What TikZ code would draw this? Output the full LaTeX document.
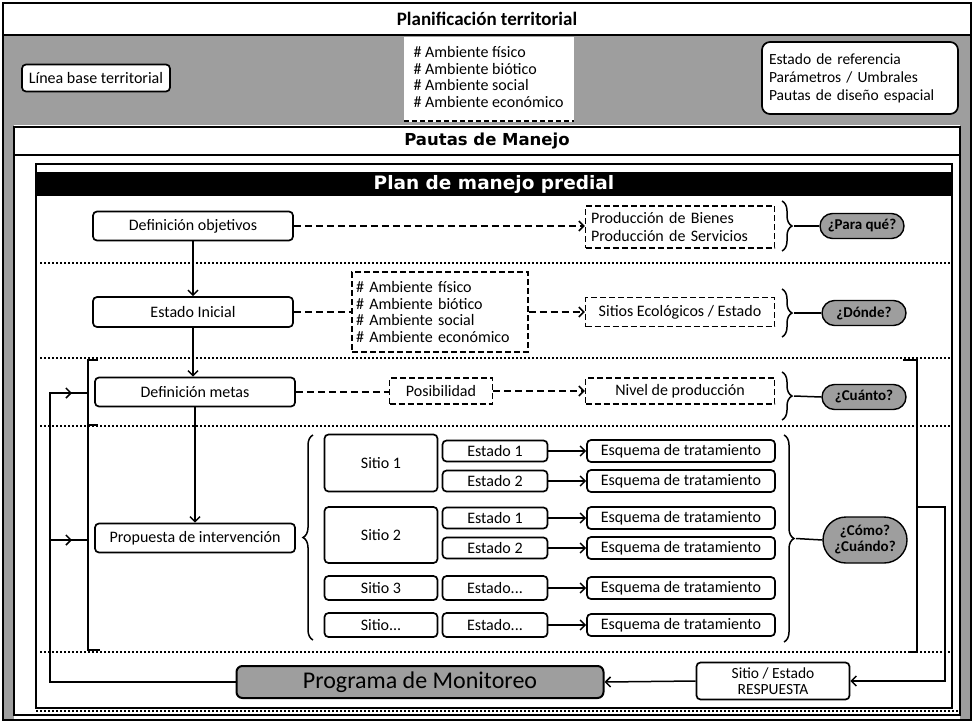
\documentclass[tikz,border=0pt]{standalone}
\usepackage{fontspec}
\setmainfont{Carlito}
\newfontfamily\titlefont{DejaVu Sans}
\usetikzlibrary{arrows.meta,decorations.pathreplacing,shapes.misc}
\definecolor{noisegray}{gray}{0.62}
\begin{document}
\begin{tikzpicture}[x=1pt,y=-1pt,
  every node/.style={font=\fontsize{16}{18}\selectfont},
  box/.style={draw, line width=1.7pt, rounded corners=4pt, fill=white, align=center, inner sep=1pt},
  dbox/.style={draw, line width=1.3pt, dash pattern=on 6pt off 3pt, fill=white, align=left, inner sep=1pt},
  oval/.style={draw, line width=1.4pt, rounded rectangle, fill=noisegray, minimum width=86, minimum height=25, font=\fontsize{15}{15}\selectfont\bfseries, align=center, inner sep=1pt},
  barb/.style={-{Straight Barb[length=5pt,width=10pt,line width=1.5pt]}},
  conn/.style={line width=1.5pt},
  dconn/.style={line width=1.4pt, dash pattern=on 7pt off 4pt},
  sep/.style={line width=1.1pt, dash pattern=on 2pt off 2pt},
  brc/.style={line width=1.5pt, decorate, decoration={brace, amplitude=10pt}}
]
\useasboundingbox (0,0) rectangle (974,723);
\fill[white] (0,0) rectangle (974,723);
% noise regions
\fill[noisegray] (3,35) rectangle (971,125);
\fill[noisegray] (3,125) rectangle (14,720);
\fill[noisegray] (960,125) rectangle (971,720);
% frames
\draw[line width=1.2pt] (3,3) rectangle (971,720);
\draw[line width=1.2pt] (3,35) -- (971,35);
\draw[line width=1.4pt, fill=white] (14,127) rectangle (960,715);
\draw[line width=1.2pt] (14,155) -- (960,155);
\draw[line width=1.4pt] (36,164) rectangle (952,708);
\fill[black] (36,172) rectangle (952,196);
\draw[sep] (36,711) -- (958,711);

\node[font=\fontsize{19}{21}\selectfont\bfseries] (t1) at (487,19) {Planificación territorial};
\node[font=\titlefont\fontsize{16.5}{18}\selectfont\bfseries] (t2) at (487,141) {Pautas de Manejo};
\node[font=\titlefont\fontsize{18.5}{20}\selectfont\bfseries, text=white] (t3) at (494,184) {Plan de manejo predial};

% top band contents
\fill[white] (404,37) rectangle (574,122);
\draw[line width=1.2pt, dash pattern=on 5pt off 3pt] (404,121) -- (574,121);
\node[align=left, anchor=west, font=\fontsize{16}{16.8}\selectfont] (ambtop) at (410,77) {\# Ambiente físico\\\# Ambiente biótico\\\# Ambiente social\\\# Ambiente económico};
\node[box, minimum width=148, minimum height=27] (lbt) at (96,78) {Línea base territorial};
\node[box, rounded corners=8pt, minimum width=196, minimum height=72, align=left, text width=182, font=\fontsize{15.5}{18}\selectfont] (ref) at (860,78) {Estado de referencia\\Parámetros / Umbrales\\Pautas de diseño espacial};

% separators
\foreach \yy in {263,358,426,652} \draw[sep] (40,\yy) -- (950,\yy);

% main flow
\node[box, minimum width=200, minimum height=29] (obj) at (193,226) {Definición objetivos};
\node[box, minimum width=200, minimum height=30] (ini) at (193,312) {Estado Inicial};
\node[box, minimum width=200, minimum height=29] (met) at (195,392) {Definición metas};
\node[box, minimum width=200, minimum height=29] (pro) at (195,538) {Propuesta de intervención};

\draw[conn, barb] (obj.south) -- (ini.north);
\draw[conn, barb] (ini.south) -- (ini.south |- met.north);
\draw[conn, barb] (met.south) -- (met.south |- pro.north);

% dashed boxes
\node[dbox, minimum width=189, minimum height=42, text width=178, font=\fontsize{16}{18}\selectfont] (prod) at (680,227) {Producción de Bienes\\Producción de Servicios};
\node[dbox, minimum width=176, minimum height=80, text width=168, font=\fontsize{16}{16.8}\selectfont] (amb) at (440,312) {\# Ambiente físico\\\# Ambiente biótico\\\# Ambiente social\\\# Ambiente económico};
\node[dbox, minimum width=189, minimum height=29, align=center] (seco) at (680,312) {Sitios Ecológicos / Estado};
\node[dbox, minimum width=103, minimum height=26, align=center] (pos) at (441,391) {Posibilidad};
\node[dbox, minimum width=189, minimum height=26, align=center] (niv) at (680,391) {Nivel de producción};

\draw[dconn, barb] (obj.east) -- (obj.east -| prod.west);
\draw[dconn] (ini.east) -- (amb.west);
\draw[dconn, barb] (amb.east) -- (seco.west);
\draw[dconn] (met.east) -- (met.east -| pos.west);
\draw[dconn, barb] (pos.east) -- (niv.west);

% ovals
\node[oval] (o1) at (862,226) {¿Para qué?};
\node[oval] (o2) at (864,313) {¿Dónde?};
\node[oval] (o3) at (864,397) {¿Cuánto?};
\node[oval, minimum height=46, font=\fontsize{15}{16}\selectfont\bfseries] (o4) at (865,540) {¿Cómo?\\¿Cuándo?};

% right braces
\draw[brc] (782,201) -- coordinate[xshift=12pt] (b1) (782,251);
\draw[brc] (782,289) -- coordinate[xshift=12pt] (b2) (782,337);
\draw[brc] (782,372) -- coordinate[xshift=12pt] (b3) (782,420);
\draw[brc] (784,435) -- coordinate[xshift=12pt] (b4) (784,642);
\draw[conn] (b1) -- (o1.west);
\draw[conn] (b2) -- (o2.west);
\draw[conn] (b3) -- (o3.west);
\draw[conn] (b4) -- (o4.west);

% sitios
\node[box, minimum width=113, minimum height=57] (s1) at (381,463) {Sitio 1};
\node[box, minimum width=113, minimum height=56] (s2) at (381,535) {Sitio 2};
\node[box, minimum width=113, minimum height=24] (s3) at (381,588) {Sitio 3};
\node[box, minimum width=113, minimum height=24] (s4) at (381,625) {Sitio...};
\node[box, minimum width=105, minimum height=21] (e11) at (495,451) {Estado 1};
\node[box, minimum width=105, minimum height=21] (e12) at (495,481) {Estado 2};
\node[box, minimum width=105, minimum height=21] (e21) at (495,518) {Estado 1};
\node[box, minimum width=105, minimum height=21] (e22) at (495,548) {Estado 2};
\node[box, minimum width=105, minimum height=24] (e3) at (495,588) {Estado...};
\node[box, minimum width=105, minimum height=24] (e4) at (495,625) {Estado...};
\foreach \n/\yy in {11/451,12/481,21/518,22/548,3/588,4/625}{
  \node[box, minimum width=188, minimum height=22] (q\n) at (681,\yy) {Esquema de tratamiento};
  \draw[conn, barb] (e\n.east) -- (q\n.west);
}
\draw[brc] (313,640) -- coordinate[xshift=-12pt] (bl) (313,435);

% left bracket and feedback
\draw[conn] (98,360) -- (88,360) -- (88,650) -- (100,650);
\draw[conn] (88,425) -- (98,425);
\coordinate (fa) at (88,393);
\coordinate (fb) at (88,540);

% bottom boxes
\node[box, rounded corners=6pt, line width=2pt, fill=noisegray, minimum width=367, minimum height=32, font=\fontsize{24}{26}\selectfont] (pm) at (420,682) {Programa de Monitoreo};
\node[box, minimum width=153, minimum height=37, font=\fontsize{15.5}{16}\selectfont] (resp) at (773,681) {Sitio / Estado\\RESPUESTA};

\draw[conn] (pm.west) -- (50,682) -- (50,393) -- (fa);
\draw[conn, barb] (50,393) -- (72,393);
\draw[conn] (50,540) -- (fb);
\draw[conn, barb] (50,540) -- (72,540);

% right return bracket
\draw[conn] (903,360) -- (917,360) -- (917,652) -- (910,652);
\draw[conn, barb] (917,507) -- (945,507) -- (945,681) -- (resp.east);
\draw[conn, barb] (resp.west) -- (pm.east);
\end{tikzpicture}
\end{document}
